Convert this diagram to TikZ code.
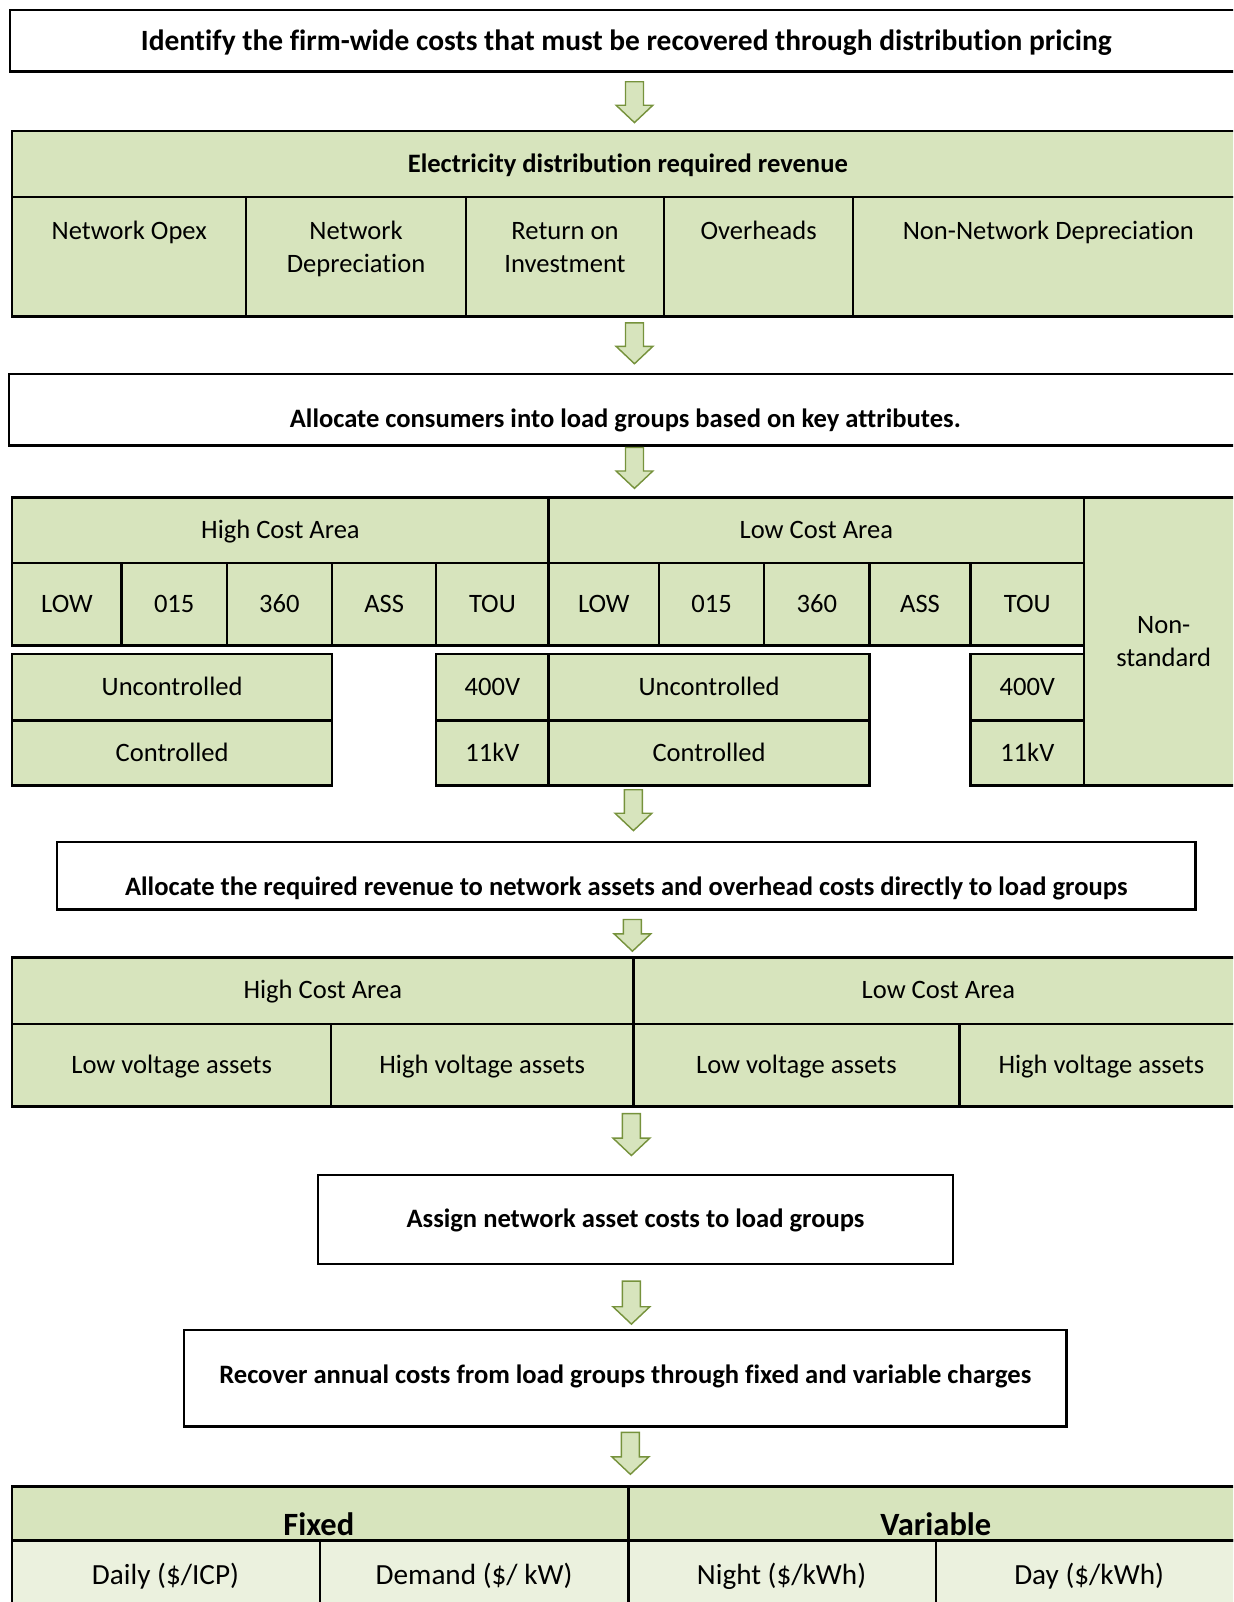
\documentclass[tikz,border=0pt]{standalone}
\usepackage{fontspec}
\setmainfont{Carlito}[Ligatures=NoCommon]
\definecolor{cellgreen}{HTML}{D7E4BD}
\definecolor{lightgreen}{HTML}{EBF1DE}
\definecolor{arrowline}{HTML}{76923C}
\tikzset{
  cell/.style={draw=black, line width=1.2pt, fill=cellgreen, inner sep=0pt,
    text height=8.2pt, text depth=0pt, align=center, font=\fontsize{13}{16}\selectfont},
  stepbox/.style={cell, fill=white},
  twoline/.style={text height=24.2pt},
  boldtxt/.style={inner sep=0pt, text height=8.2pt, text depth=0pt, align=center,
    font=\bfseries\fontsize{13}{16}\selectfont},
  normtxt/.style={inner sep=0pt, text height=8.2pt, text depth=0pt, align=center,
    font=\fontsize{13}{16}\selectfont},
  bigtxt/.style={inner sep=0pt, text height=10pt, text depth=0pt, align=center,
    font=\bfseries\fontsize{15.9}{18}\selectfont},
  rowtxt/.style={font=\fontsize{14.3}{16}\selectfont, text height=9pt},
  arrowstyle/.style={fill=cellgreen, draw=arrowline, line width=0.7pt, line join=miter},
}
\newcommand\cellat[7][]{\node[cell,#1,minimum width={(#5-#3)*0.5pt},minimum height={(#6-#4)*0.5pt}] (#2) at ({(#3+#5)/2},{(#4+#6)/2}) {#7};}
\newcommand\blockarrow[3]{%
  \draw[arrowstyle] ({#1-8.8},#2) -- ({#1+8.8},#2) -- ({#1+8.8},{#3-17}) -- ({#1+18},{#3-17})
    -- (#1,#3) -- ({#1-18},{#3-17}) -- ({#1-8.8},{#3-17}) -- cycle;}
\begin{document}
\begin{tikzpicture}[x=0.5pt,y=-0.5pt]
\useasboundingbox (0,0) rectangle (1207,1568);
\clip (0,0) rectangle (1207,1568);

% Step 1
\cellat[stepbox,font=\bfseries\fontsize{14.4}{16}\selectfont,text height=9pt]{s1}{10}{10}{1216}{70}{Identify the firm-wide costs that must be recovered through distribution pricing}
\blockarrow{621}{80}{120}

% Table 1
\cellat[font=\bfseries\fontsize{13}{16}\selectfont]{rev}{12}{128}{1217}{193}{Electricity distribution required revenue}
\cellat{c1}{12}{193}{241}{310}{}
\cellat{c2}{241}{193}{456}{310}{}
\cellat{c3}{456}{193}{650}{310}{}
\cellat{c4}{650}{193}{835}{310}{}
\cellat{c5}{835}{193}{1217}{310}{}
\node[normtxt,anchor=north] (c1t) at (126.5,218) {Network Opex};
\node[normtxt,twoline,anchor=north] (c2t) at (348.5,218) {Network\\Depreciation};
\node[normtxt,twoline,anchor=north] (c3t) at (553,218) {Return on\\Investment};
\node[normtxt,anchor=north] (c4t) at (742.5,218) {Overheads};
\node[normtxt,anchor=north] (c5t) at (1026,218) {Non-Network Depreciation};
\blockarrow{621}{316}{356}

% Step 3
\cellat[stepbox]{s3}{9}{366}{1216}{436}{}
\node[boldtxt] (s3t) at (612,410) {Allocate consumers into load groups based on key attributes.};
\blockarrow{621}{438}{478}

% Table 2
\cellat{hca}{12}{487}{537}{551}{High Cost Area}
\cellat{lca}{537}{487}{1061}{551}{Low Cost Area}
\cellat[twoline]{nons}{1061}{487}{1217}{769}{Non-\\standard}
\cellat{h1}{12}{551}{119}{632}{LOW}
\cellat{h2}{119}{551}{222}{632}{015}
\cellat{h3}{222}{551}{325}{632}{360}
\cellat{h4}{325}{551}{427}{632}{ASS}
\cellat{h5}{427}{551}{537}{632}{TOU}
\cellat{l1}{537}{551}{645}{632}{LOW}
\cellat{l2}{645}{551}{748}{632}{015}
\cellat{l3}{748}{551}{851}{632}{360}
\cellat{l4}{851}{551}{950}{632}{ASS}
\cellat{l5}{950}{551}{1061}{632}{TOU}
\cellat{hu}{12}{640}{325}{705}{Uncontrolled}
\cellat{hc}{12}{705}{325}{769}{Controlled}
\cellat{h400}{427}{640}{537}{705}{400V}
\cellat{h11}{427}{705}{537}{769}{11kV}
\cellat{lu}{537}{640}{851}{705}{Uncontrolled}
\cellat{lc}{537}{705}{851}{769}{Controlled}
\cellat{l400}{950}{640}{1061}{705}{400V}
\cellat{l11}{950}{705}{1061}{769}{11kV}
\blockarrow{620}{773}{813}

% Step 5
\cellat[stepbox]{s5}{56}{824}{1170}{890}{}
\node[boldtxt] (s5t) at (613,868) {Allocate the required revenue to network assets and overhead costs directly to load groups};
\blockarrow{619}{900}{931}

% Table 3
\cellat{ahca}{12}{937}{620}{1002}{High Cost Area}
\cellat{alca}{620}{937}{1217}{1002}{Low Cost Area}
\cellat{a1}{12}{1002}{324}{1083}{Low voltage assets}
\cellat{a2}{324}{1002}{620}{1083}{High voltage assets}
\cellat{a3}{620}{1002}{939}{1083}{Low voltage assets}
\cellat{a4}{939}{1002}{1217}{1083}{High voltage assets}
\blockarrow{618}{1090}{1131}

% Step 6
\cellat[stepbox,font=\bfseries\fontsize{13}{16}\selectfont]{s6}{311}{1150}{933}{1237}{Assign network asset costs to load groups}
\blockarrow{618}{1254}{1296}

% Step 7
\cellat[stepbox]{s7}{180}{1302}{1044}{1396}{}
\node[boldtxt] (s7t) at (612,1346) {Recover annual costs from load groups through fixed and variable charges};
\blockarrow{617}{1402}{1443}

% Table 4
\cellat{fix}{12}{1455}{615}{1508}{}
\cellat{var}{615}{1455}{1217}{1508}{}
\node[bigtxt] (fixt) at (312,1492.5) {Fixed};
\node[bigtxt] (vart) at (916,1492.5) {Variable};
\cellat[fill=lightgreen,rowtxt]{d1}{12}{1508}{313}{1600}{}
\cellat[fill=lightgreen,rowtxt]{d2}{313}{1508}{615}{1600}{}
\cellat[fill=lightgreen,rowtxt]{d3}{615}{1508}{916}{1600}{}
\cellat[fill=lightgreen,rowtxt]{d4}{916}{1508}{1217}{1600}{}
\node[normtxt,rowtxt] (d1t) at (162,1542) {Daily (\$/ICP)};
\node[normtxt,rowtxt] (d2t) at (464,1542) {Demand (\$/ kW)};
\node[normtxt,rowtxt] (d3t) at (765,1542) {Night (\$/kWh)};
\node[normtxt,rowtxt] (d4t) at (1066,1542) {Day (\$/kWh)};
\end{tikzpicture}
\end{document}
